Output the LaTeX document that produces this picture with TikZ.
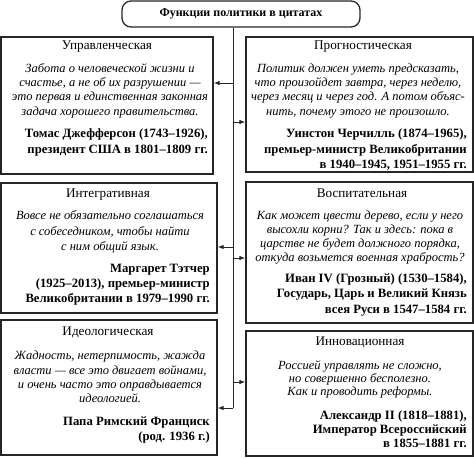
\documentclass[tikz,border=0pt]{standalone}
\usepackage{fontspec}
\setmainfont{Liberation Serif}
\usetikzlibrary{arrows.meta}
\begin{document}
\begin{tikzpicture}[x=1pt,y=-1pt,
  box/.style={draw=black!85, line width=1.3pt, fill=white, inner sep=0pt},
  topbox/.style={draw=black!85, line width=1.3pt, rounded corners=9pt, inner sep=0pt,
    font=\fontsize{12}{14}\selectfont\bfseries},
  ttl/.style={font=\fontsize{13.2}{14}\selectfont, anchor=mid, inner sep=0pt},
  qt/.style={font=\fontsize{12.5}{14}\selectfont\itshape, anchor=mid, inner sep=0pt},
  au/.style={font=\fontsize{12.7}{14}\selectfont\bfseries, anchor=mid east, inner sep=0pt},
  conn/.style={draw=black!85, line width=0.9pt},
  arr/.style={conn, -{Latex[length=6pt,width=4.5pt]}}]
\useasboundingbox (0,0) rectangle (474,458);

% top node
\node[topbox, minimum width=238pt, minimum height=26pt] (T) at (241,14) {Функции политики в цитатах};

% boxes
\node[box, minimum width=212pt, minimum height=137pt] (L1) at (107,105.5) {};
\node[box, minimum width=216pt, minimum height=130pt] (L2) at (109,248) {};
\node[box, minimum width=216pt, minimum height=135pt] (L3) at (109,387.5) {};
\node[box, minimum width=227pt, minimum height=135pt] (R1) at (359.5,104.5) {};
\node[box, minimum width=227pt, minimum height=141pt] (R2) at (359.5,252.5) {};
\node[box, minimum width=227pt, minimum height=125pt] (R3) at (359.5,393.5) {};

% connectors
\coordinate (sp) at (233,408);
\coordinate (a1) at (233,83);
\coordinate (b1) at (233,122);
\coordinate (a2) at (233,247);
\coordinate (b2) at (233,258);
\coordinate (b3) at (233,382);
\draw[conn] (T.south -| sp) -- (sp);
\draw[arr] (sp) -- (L3.east |- sp);
\draw[arr] (a1) -- (L1.east |- a1);
\draw[arr] (b1) -- (R1.west |- b1);
\draw[arr] (a2) -- (L2.east |- a2);
\draw[arr] (b2) -- (R2.west |- b2);
\draw[arr] (b3) -- (R3.west |- b3);

% ---- L1
\node[ttl] (L1t) at (107,47) {Управленческая};
\foreach [count=\i] \t/\y in {{Забота о человеческой жизни и}/70,
  {счастье, а не об их разрушении —}/84,
  {это первая и единственная законная}/98,
  {задача хорошего правительства.}/113}
  \node[qt] (L1q\i) at (110,\y) {\t};
\foreach [count=\i] \t/\y in {{Томас Джефферсон (1743–1926),}/135,
  {президент США в 1801–1809 гг.}/151}
  \node[au] (L1a\i) at (208,\y) {\t};

% ---- R1
\node[ttl] (R1t) at (363,47) {Прогностическая};
\foreach [count=\i] \t/\y in {{Политик должен уметь предсказать,}/70,
  {что произойдет завтра, через неделю,}/84,
  {через месяц и через год. А потом объяс-}/98,
  {нить, почему этого не произошло.}/113}
  \node[qt] (R1q\i) at (358,\y) {\t};
\foreach [count=\i] \t/\y in {{Уинстон Черчилль (1874–1965),}/135,
  {премьер-министр Великобритании}/151,
  {в 1940–1945, 1951–1955 гг.}/166}
  \node[au] (R1a\i) at (467,\y) {\t};

% ---- L2
\node[ttl] (L2t) at (108,195) {Интегративная};
\foreach [count=\i] \t/\y in {{Вовсе не обязательно соглашаться}/217,
  {с собеседником, чтобы найти}/233,
  {с ним общий язык.}/248}
  \node[qt] (L2q\i) at (110,\y) {\t};
\foreach [count=\i] \t/\y in {{Маргарет Тэтчер}/270,
  {(1925–2013), премьер-министр}/285,
  {Великобритании в 1979–1990 гг.}/300}
  \node[au] (L2a\i) at (210,\y) {\t};

% ---- R2
\node[ttl] (R2t) at (362,195) {Воспитательная};
\foreach [count=\i] \t/\y in {{Как может цвести дерево, если у него}/217,
  {высохли корни? Так и здесь: пока в}/231,
  {царстве не будет должного порядка,}/245,
  {откуда возьмется военная храбрость?}/259}
  \node[qt] (R2q\i) at (360,\y) {\t};
\foreach [count=\i] \t/\y in {{Иван IV (Грозный) (1530–1584),}/280,
  {Государь, Царь и Великий Князь}/295,
  {всея Руси в 1547–1584 гг.}/311}
  \node[au] (R2a\i) at (467,\y) {\t};

% ---- L3
\node[ttl] (L3t) at (108,333) {Идеологическая};
\foreach [count=\i] \t/\y in {{Жадность, нетерпимость, жажда}/357,
  {власти — все это двигает войнами,}/372,
  {и очень часто это оправдывается}/386,
  {идеологией.}/400}
  \node[qt] (L3q\i) at (110,\y) {\t};
\foreach [count=\i] \t/\y in {{Папа Римский Франциск}/423,
  {(род. 1936 г.)}/438}
  \node[au] (L3a\i) at (210,\y) {\t};

% ---- R3
\node[ttl] (R3t) at (360,343) {Инновационная};
\foreach [count=\i] \t/\y in {{Россией управлять не сложно,}/367,
  {но совершенно бесполезно.}/380,
  {Как и проводить реформы.}/393}
  \node[qt] (R3q\i) at (360,\y) {\t};
\foreach [count=\i] \t/\y in {{Александр II (1818–1881),}/417,
  {Император Всероссийский}/431,
  {в 1855–1881 гг.}/445}
  \node[au] (R3a\i) at (467,\y) {\t};
\end{tikzpicture}
\end{document}
